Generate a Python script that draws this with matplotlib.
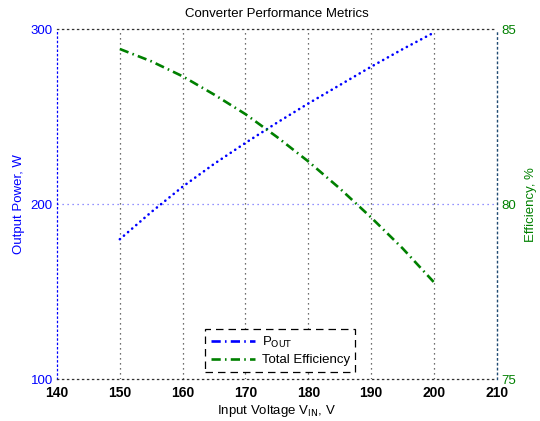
import numpy as np
import matplotlib.pyplot as plt
from matplotlib.lines import Line2D

plt.rcParams['font.family'] = ['Liberation Sans', 'DejaVu Sans']

# input voltage sweep, V
v_in = [150, 155, 160, 165, 170, 175, 180, 185, 190, 195, 200]
# output power, W
p_out = [180, 195.5, 210, 223, 235, 246.5, 257.5, 268, 278.5, 288.5, 298]
# total efficiency, %
eff = [84.43, 84.08, 83.65, 83.13, 82.57, 81.92, 81.22, 80.45, 79.62, 78.74, 77.77]

blue = '#0000ff'
green = '#008000'
dotted = (0, (1, 3))
dashdot = (0, (3.5, 1.6, 0.6, 1.6))

fig = plt.figure(figsize=(5.4, 4.21), dpi=100)
ax = fig.add_axes([0.1056, 0.099, 0.8144, 0.832])
ax2 = ax.twinx()

ax.plot(v_in, p_out, color=blue, lw=1.9, linestyle=(0, (0.05, 2.0)),
        dash_capstyle='round')
ax2.plot(v_in, eff, color=green, lw=1.9, linestyle=dashdot)

ax.set_xlim(140, 210)
ax.set_ylim(100, 300)
ax2.set_ylim(75, 85)
ax.set_xticks(np.arange(140, 211, 10))
ax.set_yticks([100, 200, 300])
ax2.set_yticks([75, 80, 85])

# dotted grid: vertical black, horizontal blue at 200
for v in range(150, 210, 10):
    ax.axvline(v, color='0.25', lw=0.9, linestyle=dotted, zorder=0)
ax.axhline(200, color='#6f6fff', lw=0.9, linestyle=dotted, zorder=0)

for s in ax.spines.values():
    s.set_linestyle(dotted)
    s.set_linewidth(0.9)
    s.set_color('0.2')
ax.spines['right'].set_visible(False)
for side in ('left', 'top', 'bottom'):
    ax2.spines[side].set_visible(False)
ax.spines['left'].set_color(blue)
ax.spines['left'].set_linestyle((0, (1, 2.5)))
ax2.spines['right'].set_linestyle((0, (1, 2.5)))
ax2.spines['right'].set_color('#1f4a72')
ax2.spines['right'].set_linewidth(1.0)

for a in (ax, ax2):
    a.tick_params(length=0, labelsize=9.5)
ax.tick_params(axis='x', colors='black', pad=5, labelsize=10)
ax.tick_params(axis='y', colors=blue, pad=3)
ax2.tick_params(axis='y', colors=green, pad=3)
for lab in ax.get_xticklabels():
    lab.set_fontweight('bold')

ax.set_title('Converter Performance Metrics', fontsize=9.5, pad=9)
ax.set_xlabel('Input Voltage V$_{\\mathrm{IN}}$, V', fontsize=9.5, labelpad=2)
ax.set_ylabel('Output Power, W', color=blue, fontsize=9.5, labelpad=4)
ax2.set_ylabel('Efficiency, %', color=green, fontsize=9.5, labelpad=7)

handles = [
    Line2D([], [], color=blue, lw=1.9, linestyle=dashdot),
    Line2D([], [], color=green, lw=1.9, linestyle=dashdot),
]
leg = ax2.legend(handles, ['P$_{\\mathrm{OUT}}$', 'Total Efficiency'],
                 loc='lower center', bbox_to_anchor=(0.508, 0.003),
                 fontsize=9.5, handlelength=3.4, handletextpad=0.5,
                 borderpad=0.4, labelspacing=0.35, fancybox=False,
                 framealpha=1)
leg.get_frame().set_edgecolor('black')
leg.get_frame().set_linestyle((0, (6, 4)))
leg.get_frame().set_linewidth(0.9)

fig.savefig('out.png', dpi=100)
